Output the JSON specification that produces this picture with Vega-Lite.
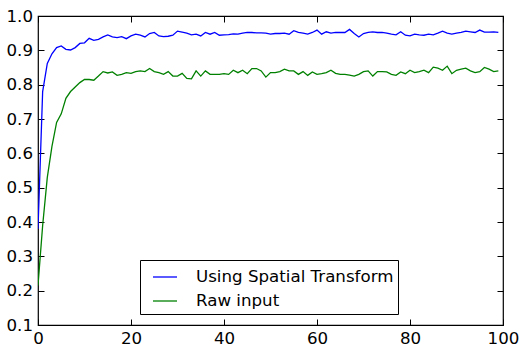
{
  "$schema": "https://vega.github.io/schema/vega-lite/v6.json",
  "autosize": "none",
  "width": 465,
  "height": 309,
  "padding": {"left": 38, "top": 16, "right": 22, "bottom": 31},
  "background": "white",
  "config": {
    "view": {"stroke": "black", "strokeWidth": 1.2},
    "axis": {
      "grid": false,
      "domain": false,
      "ticks": true,
      "tickSize": -6,
      "tickColor": "black",
      "tickWidth": 1,
      "labelFont": "DejaVu Sans",
      "labelFontSize": 16.67,
      "labelColor": "black",
      "title": null
    },
    "legend": {
      "labelFont": "DejaVu Sans",
      "labelFontSize": 16.67,
      "labelColor": "black",
      "labelLimit": 0
    }
  },
  "data": {
    "values": [
      {"epoch":0,"Using Spatial Transform":0.38,"Raw input":0.215},
      {"epoch":1,"Using Spatial Transform":0.78,"Raw input":0.39},
      {"epoch":2,"Using Spatial Transform":0.862,"Raw input":0.53},
      {"epoch":3,"Using Spatial Transform":0.89,"Raw input":0.62},
      {"epoch":4,"Using Spatial Transform":0.908,"Raw input":0.69},
      {"epoch":5,"Using Spatial Transform":0.913,"Raw input":0.715},
      {"epoch":6,"Using Spatial Transform":0.903,"Raw input":0.76},
      {"epoch":7,"Using Spatial Transform":0.901,"Raw input":0.78},
      {"epoch":8,"Using Spatial Transform":0.908,"Raw input":0.793},
      {"epoch":9,"Using Spatial Transform":0.920,"Raw input":0.806},
      {"epoch":10,"Using Spatial Transform":0.922,"Raw input":0.815},
      {"epoch":11,"Using Spatial Transform":0.935,"Raw input":0.815},
      {"epoch":12,"Using Spatial Transform":0.929,"Raw input":0.813},
      {"epoch":13,"Using Spatial Transform":0.932,"Raw input":0.825},
      {"epoch":14,"Using Spatial Transform":0.939,"Raw input":0.838},
      {"epoch":15,"Using Spatial Transform":0.945,"Raw input":0.834},
      {"epoch":16,"Using Spatial Transform":0.939,"Raw input":0.837},
      {"epoch":17,"Using Spatial Transform":0.937,"Raw input":0.827},
      {"epoch":18,"Using Spatial Transform":0.940,"Raw input":0.830},
      {"epoch":19,"Using Spatial Transform":0.934,"Raw input":0.835},
      {"epoch":20,"Using Spatial Transform":0.942,"Raw input":0.833},
      {"epoch":21,"Using Spatial Transform":0.947,"Raw input":0.838},
      {"epoch":22,"Using Spatial Transform":0.944,"Raw input":0.840},
      {"epoch":23,"Using Spatial Transform":0.939,"Raw input":0.838},
      {"epoch":24,"Using Spatial Transform":0.949,"Raw input":0.847},
      {"epoch":25,"Using Spatial Transform":0.952,"Raw input":0.838},
      {"epoch":26,"Using Spatial Transform":0.942,"Raw input":0.835},
      {"epoch":27,"Using Spatial Transform":0.940,"Raw input":0.830},
      {"epoch":28,"Using Spatial Transform":0.941,"Raw input":0.838},
      {"epoch":29,"Using Spatial Transform":0.944,"Raw input":0.825},
      {"epoch":30,"Using Spatial Transform":0.956,"Raw input":0.825},
      {"epoch":31,"Using Spatial Transform":0.953,"Raw input":0.833},
      {"epoch":32,"Using Spatial Transform":0.950,"Raw input":0.818},
      {"epoch":33,"Using Spatial Transform":0.945,"Raw input":0.817},
      {"epoch":34,"Using Spatial Transform":0.947,"Raw input":0.840},
      {"epoch":35,"Using Spatial Transform":0.942,"Raw input":0.825},
      {"epoch":36,"Using Spatial Transform":0.952,"Raw input":0.840},
      {"epoch":37,"Using Spatial Transform":0.947,"Raw input":0.830},
      {"epoch":38,"Using Spatial Transform":0.952,"Raw input":0.830},
      {"epoch":39,"Using Spatial Transform":0.944,"Raw input":0.830},
      {"epoch":40,"Using Spatial Transform":0.945,"Raw input":0.832},
      {"epoch":41,"Using Spatial Transform":0.946,"Raw input":0.830},
      {"epoch":42,"Using Spatial Transform":0.948,"Raw input":0.842},
      {"epoch":43,"Using Spatial Transform":0.947,"Raw input":0.835},
      {"epoch":44,"Using Spatial Transform":0.950,"Raw input":0.842},
      {"epoch":45,"Using Spatial Transform":0.952,"Raw input":0.832},
      {"epoch":46,"Using Spatial Transform":0.952,"Raw input":0.847},
      {"epoch":47,"Using Spatial Transform":0.951,"Raw input":0.847},
      {"epoch":48,"Using Spatial Transform":0.951,"Raw input":0.840},
      {"epoch":49,"Using Spatial Transform":0.950,"Raw input":0.822},
      {"epoch":50,"Using Spatial Transform":0.947,"Raw input":0.835},
      {"epoch":51,"Using Spatial Transform":0.949,"Raw input":0.835},
      {"epoch":52,"Using Spatial Transform":0.949,"Raw input":0.838},
      {"epoch":53,"Using Spatial Transform":0.950,"Raw input":0.845},
      {"epoch":54,"Using Spatial Transform":0.947,"Raw input":0.840},
      {"epoch":55,"Using Spatial Transform":0.957,"Raw input":0.840},
      {"epoch":56,"Using Spatial Transform":0.952,"Raw input":0.830},
      {"epoch":57,"Using Spatial Transform":0.950,"Raw input":0.838},
      {"epoch":58,"Using Spatial Transform":0.947,"Raw input":0.827},
      {"epoch":59,"Using Spatial Transform":0.952,"Raw input":0.837},
      {"epoch":60,"Using Spatial Transform":0.959,"Raw input":0.830},
      {"epoch":61,"Using Spatial Transform":0.947,"Raw input":0.832},
      {"epoch":62,"Using Spatial Transform":0.954,"Raw input":0.835},
      {"epoch":63,"Using Spatial Transform":0.950,"Raw input":0.842},
      {"epoch":64,"Using Spatial Transform":0.952,"Raw input":0.833},
      {"epoch":65,"Using Spatial Transform":0.952,"Raw input":0.830},
      {"epoch":66,"Using Spatial Transform":0.952,"Raw input":0.830},
      {"epoch":67,"Using Spatial Transform":0.961,"Raw input":0.828},
      {"epoch":68,"Using Spatial Transform":0.949,"Raw input":0.825},
      {"epoch":69,"Using Spatial Transform":0.939,"Raw input":0.830},
      {"epoch":70,"Using Spatial Transform":0.949,"Raw input":0.838},
      {"epoch":71,"Using Spatial Transform":0.952,"Raw input":0.840},
      {"epoch":72,"Using Spatial Transform":0.954,"Raw input":0.825},
      {"epoch":73,"Using Spatial Transform":0.952,"Raw input":0.838},
      {"epoch":74,"Using Spatial Transform":0.952,"Raw input":0.838},
      {"epoch":75,"Using Spatial Transform":0.950,"Raw input":0.837},
      {"epoch":76,"Using Spatial Transform":0.947,"Raw input":0.830},
      {"epoch":77,"Using Spatial Transform":0.945,"Raw input":0.827},
      {"epoch":78,"Using Spatial Transform":0.954,"Raw input":0.837},
      {"epoch":79,"Using Spatial Transform":0.944,"Raw input":0.832},
      {"epoch":80,"Using Spatial Transform":0.942,"Raw input":0.842},
      {"epoch":81,"Using Spatial Transform":0.947,"Raw input":0.835},
      {"epoch":82,"Using Spatial Transform":0.945,"Raw input":0.838},
      {"epoch":83,"Using Spatial Transform":0.944,"Raw input":0.842},
      {"epoch":84,"Using Spatial Transform":0.947,"Raw input":0.835},
      {"epoch":85,"Using Spatial Transform":0.945,"Raw input":0.851},
      {"epoch":86,"Using Spatial Transform":0.950,"Raw input":0.848},
      {"epoch":87,"Using Spatial Transform":0.956,"Raw input":0.842},
      {"epoch":88,"Using Spatial Transform":0.950,"Raw input":0.854},
      {"epoch":89,"Using Spatial Transform":0.947,"Raw input":0.832},
      {"epoch":90,"Using Spatial Transform":0.950,"Raw input":0.842},
      {"epoch":91,"Using Spatial Transform":0.952,"Raw input":0.845},
      {"epoch":92,"Using Spatial Transform":0.956,"Raw input":0.848},
      {"epoch":93,"Using Spatial Transform":0.954,"Raw input":0.840},
      {"epoch":94,"Using Spatial Transform":0.952,"Raw input":0.835},
      {"epoch":95,"Using Spatial Transform":0.959,"Raw input":0.838},
      {"epoch":96,"Using Spatial Transform":0.953,"Raw input":0.850},
      {"epoch":97,"Using Spatial Transform":0.953,"Raw input":0.845},
      {"epoch":98,"Using Spatial Transform":0.954,"Raw input":0.838},
      {"epoch":99,"Using Spatial Transform":0.952,"Raw input":0.840}
    ]
  },
  "layer": [
    {
      "transform": [{"fold": ["Using Spatial Transform", "Raw input"], "as": ["series", "acc"]}],
      "mark": {"type": "line", "strokeWidth": 1.3, "clip": true},
      "encoding": {
        "x": {"field": "epoch", "type": "quantitative",
              "scale": {"domain": [0, 100], "nice": false, "zero": false},
              "axis": {"orient": "bottom", "values": [0, 20, 40, 60, 80, 100], "labelPadding": 11, "labelFlush": false}},
        "y": {"field": "acc", "type": "quantitative",
              "scale": {"domain": [0.1, 1.0], "nice": false, "zero": false},
              "axis": {"orient": "left", "values": [0.1, 0.2, 0.3, 0.4, 0.5, 0.6, 0.7, 0.8, 0.9, 1.0], "format": ".1f", "labelPadding": 11.5}},
        "color": {"field": "series", "type": "nominal",
                  "scale": {"domain": ["Using Spatial Transform", "Raw input"], "range": ["#0000ff", "#008000"]},
                  "legend": {
                    "title": null,
                    "orient": "none",
                    "legendX": 102,
                    "legendY": 244,
                    "symbolType": "stroke",
                    "symbolSize": 576,
                    "symbolStrokeWidth": 1.3,
                    "symbolOffset": 8,
                    "labelOffset": 18,
                    "labelLimit": 0,
                    "rowPadding": 2,
                    "padding": 4,
                    "strokeColor": "black",
                    "fillColor": "white",
                    "cornerRadius": 0
                  }}
      }
    },
    {
      "mark": {"type": "line", "opacity": 0},
      "encoding": {
        "x": {"field": "epoch", "type": "quantitative",
              "scale": {"domain": [0, 100], "nice": false, "zero": false},
              "axis": {"orient": "top", "values": [0, 20, 40, 60, 80, 100], "labels": false}},
        "y": {"field": "Raw input", "type": "quantitative",
              "scale": {"domain": [0.1, 1.0], "nice": false, "zero": false},
              "axis": {"orient": "right", "values": [0.1, 0.2, 0.3, 0.4, 0.5, 0.6, 0.7, 0.8, 0.9, 1.0], "labels": false}}
      }
    }
  ],
  "resolve": {"axis": {"x": "independent", "y": "independent"}}
}
